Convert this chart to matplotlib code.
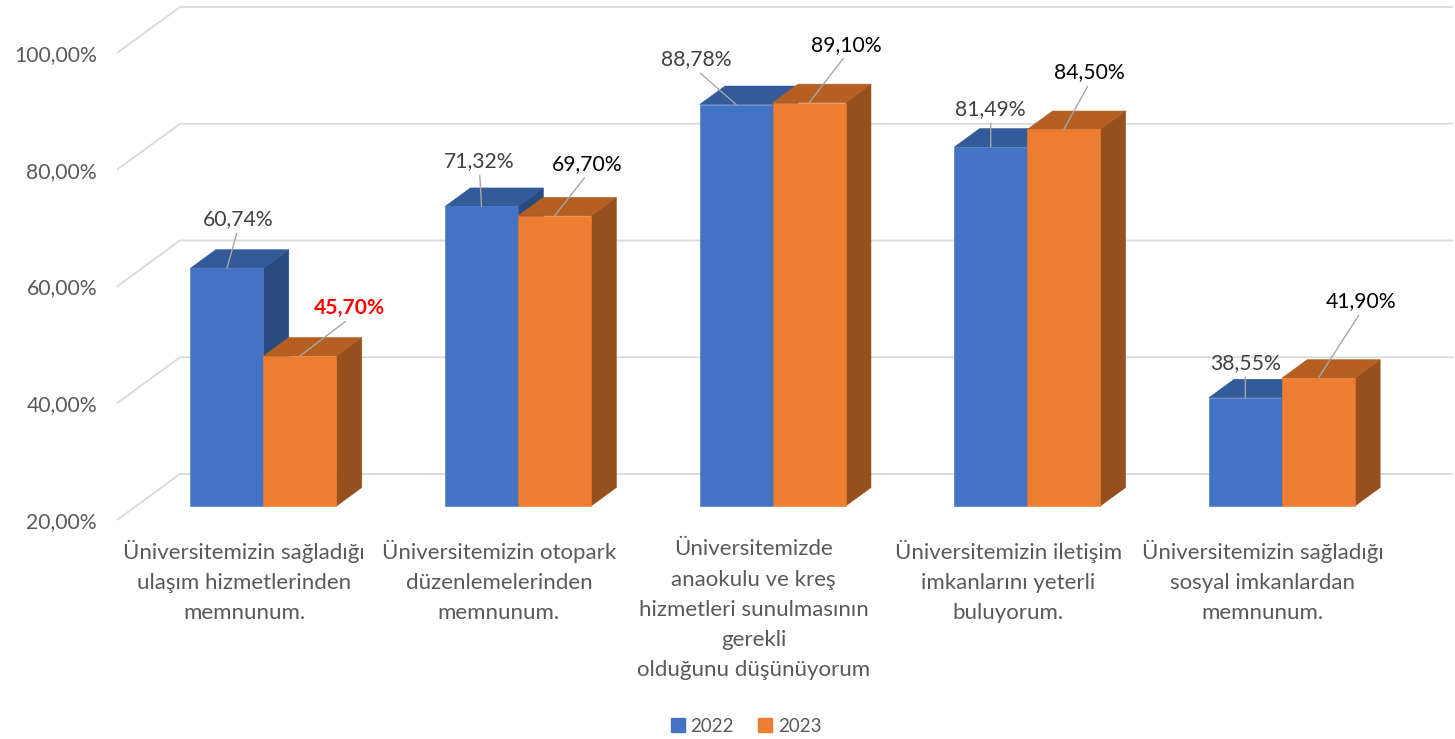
import matplotlib
matplotlib.use("Agg")
import matplotlib.pyplot as plt
from matplotlib.patches import Patch

# ---------------- data ----------------
categories = [
    "Üniversitemizin sağladığı\nulaşım hizmetlerinden\nmemnunum.",
    "Üniversitemizin otopark\ndüzenlemelerinden\nmemnunum.",
    "Üniversitemizde\nanaokulu ve kreş\nhizmetleri sunulmasının\ngerekli\nolduğunu düşünüyorum",
    "Üniversitemizin iletişim\nimkanlarını yeterli\nbuluyorum.",
    "Üniversitemizin sağladığı\nsosyal imkanlardan\nmemnunum.",
]
series_names = ["2022", "2023"]
values_2022 = [60.74, 71.32, 88.78, 81.49, 38.55]
values_2023 = [45.70, 69.70, 89.10, 84.50, 41.90]
y_ticks = [20, 40, 60, 80, 100]
y_tick_labels = ["20,00%", "40,00%", "60,00%", "80,00%", "100,00%"]

# ---------------- style ----------------
plt.rcParams["font.family"] = ["Lato", "DejaVu Sans"]
FS_NUM = 15.2
FS_CAT = 16
FS_LEG = 13.5
GRAY_TXT = "#595959"
front_cols = ["#4472C4", "#ED7D31"]
top_cols = ["#335A99", "#B55F22"]
side_cols = ["#2B4A80", "#964F1D"]
label_cols = ["#404040", "#000000"]
# label offsets (pixels) from bar front-top centre, per series / category
label_offsets = [
    [(11, 49), (-2, 45), (-40, 45), (0, 38), (0, 35)],
    [(50, 48), (33, 52), (37, 58), (26, 57), (43, 77)],
]
special = {(1, 0): dict(color="#FF0000", fontweight="bold")}

W = 0.2867          # bar width (category units)
DX, DY = 0.2474, 7.88   # full depth offset in data units
D_FRONT, D_BACK = 0.304, 0.706
BASE = 20

fig = plt.figure(figsize=(14.55, 7.39), dpi=100)
ax = fig.add_axes([117 / 1455, 1 - 520 / 739, 1273 / 1455, 467 / 739])
ax.set_xlim(-0.5, 4.5)
ax.set_ylim(20, 100)
for s in ax.spines.values():
    s.set_visible(False)
ax.patch.set_visible(False)


def P(x, y, d):
    return (x + d * DX, y + d * DY)


# gridlines (side wall diagonal + back wall)
for v in y_ticks:
    p0 = P(-0.5, v, 0)
    p1 = P(-0.5, v, 1)
    p2 = P(4.5, v, 1)
    ax.plot([p0[0], p1[0], p2[0]], [p0[1], p1[1], p2[1]], color="#D9D9D9",
            lw=1.3, clip_on=False, zorder=1, solid_capstyle="butt")

series_vals = [values_2022, values_2023]
for i in range(len(categories)):
    for s, vals in enumerate(series_vals):
        v = vals[i]
        x0 = i - W + s * W
        x1 = x0 + W
        front = [P(x0, BASE, D_FRONT), P(x1, BASE, D_FRONT), P(x1, v, D_FRONT), P(x0, v, D_FRONT)]
        top = [P(x0, v, D_FRONT), P(x1, v, D_FRONT), P(x1, v, D_BACK), P(x0, v, D_BACK)]
        side = [P(x1, BASE, D_FRONT), P(x1, v, D_FRONT), P(x1, v, D_BACK), P(x1, BASE, D_BACK)]
        z = 2 + i * 2 + s
        for poly, c in ((side, side_cols[s]), (top, top_cols[s]), (front, front_cols[s])):
            ax.fill([p[0] for p in poly], [p[1] for p in poly], facecolor=c,
                    edgecolor=c, lw=0.4, clip_on=False, zorder=z)
        anchor = P((x0 + x1) / 2, v, D_FRONT)
        kw = dict(color=label_cols[s])
        kw.update(special.get((s, i), {}))
        txt = f"{v:.2f}%".replace(".", ",")
        ax.annotate(txt, xy=anchor, xytext=label_offsets[s][i], textcoords="offset pixels",
                    ha="center", va="center", fontsize=FS_NUM, zorder=30,
                    arrowprops=dict(arrowstyle="-", color="#A6A6A6", lw=1.0,
                                    relpos=(0.5, 0.0), shrinkA=1, shrinkB=0),
                    annotation_clip=False, **kw)

ax.set_yticks(y_ticks)
ax.set_yticklabels(y_tick_labels, fontsize=FS_NUM, color=GRAY_TXT)
ax.set_xticks(range(len(categories)))
ax.set_xticklabels(categories, fontsize=FS_CAT, color=GRAY_TXT, linespacing=1.63)
ax.tick_params(axis="y", length=0, pad=14.4)
ax.tick_params(axis="x", length=0, pad=14)

handles = [Patch(facecolor=c, edgecolor=c) for c in front_cols]
fig.legend(handles, series_names, loc="center", bbox_to_anchor=(746 / 1455, 1 - 726 / 739),
           ncol=2, frameon=False, fontsize=FS_LEG, handlelength=0.75, handleheight=0.75,
           handletextpad=0.3, columnspacing=1.3, labelcolor=GRAY_TXT)

fig.savefig("out.png", dpi=100)
